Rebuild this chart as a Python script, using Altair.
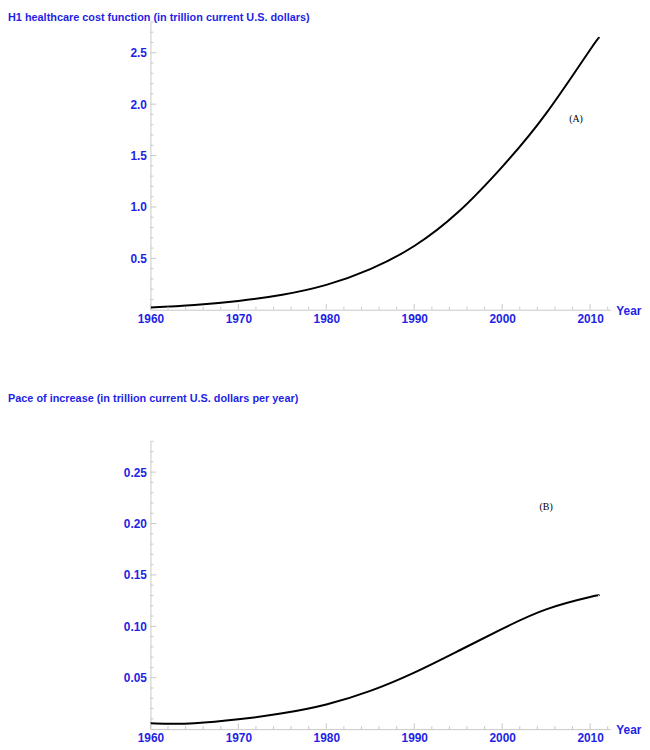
import altair as alt
import pandas as pd

# ---- data ----
years_a = [1960, 1965, 1970, 1975, 1980, 1985, 1990, 1995, 2000, 2005, 2010, 2011]
cost_a = [0.022, 0.047, 0.086, 0.146, 0.242, 0.395, 0.62, 0.95, 1.39, 1.91, 2.53, 2.64]

years_b = [1960, 1962, 1965, 1970, 1975, 1980, 1985, 1990, 1995, 2000, 2005, 2010, 2011]
pace_b = [0.0058, 0.0053, 0.0058, 0.0096, 0.0154, 0.024, 0.0372, 0.055, 0.076, 0.0975, 0.1165, 0.1285, 0.13]

x_labels = [1960, 1970, 1980, 1990, 2000, 2010]
x_minor = [1962, 1964, 1966, 1968, 1972, 1974, 1976, 1978, 1982, 1984, 1986, 1988,
           1992, 1994, 1996, 1998, 2002, 2004, 2006, 2008, 2012]
ya_labels = [0.5, 1.0, 1.5, 2.0, 2.5]
ya_minor = [round(0.1 * i, 1) for i in range(1, 29) if i % 5]
yb_labels = [0.05, 0.10, 0.15, 0.20, 0.25]
yb_minor = [round(0.01 * i, 2) for i in range(1, 29) if i % 5]

title_a = "H1 healthcare cost function (in trillion current U.S. dollars)"
title_b = "Pace of increase (in trillion current U.S. dollars per year)"

BLUE = "#1f1fe6"
GRAY = "#c8c8c8"
FONT = "Liberation Sans"
W, H = 465, 291


def panel(years, vals, ymax, ylab, ymin, yfmt, title, tag, tag_x, tag_y, title_y):
    xs = alt.Scale(domain=[1960, 2012.3], nice=False, zero=False)
    ys = alt.Scale(domain=[0, ymax], nice=False, zero=True)
    xaxis = alt.Axis(values=x_labels, format="d", title=None, grid=False, ticks=False,
                     domain=True, domainColor=GRAY, labelColor=BLUE, labelFont=FONT,
                     labelFontWeight="bold", labelFontSize=12, labelPadding=4,
                     labelFlush=False)
    yaxis = alt.Axis(values=ylab, format=yfmt, title=None, grid=False, ticks=False,
                     domain=True, domainColor=GRAY, labelColor=BLUE, labelFont=FONT,
                     labelFontWeight="bold", labelFontSize=12, labelPadding=4)
    df = pd.DataFrame({"year": years, "v": vals})
    line = alt.Chart(df).mark_line(color="black", strokeWidth=2, interpolate="natural").encode(
        x=alt.X("year:Q", scale=xs, axis=xaxis),
        y=alt.Y("v:Q", scale=ys, axis=yaxis),
    )
    xmaj = alt.Chart(pd.DataFrame({"year": x_labels})).mark_rule(color=GRAY).encode(
        x=alt.X("year:Q"), y=alt.value(H), y2=alt.value(H - 6))
    xmin = alt.Chart(pd.DataFrame({"year": x_minor})).mark_rule(color=GRAY).encode(
        x=alt.X("year:Q"), y=alt.value(H), y2=alt.value(H - 3))
    ymaj = alt.Chart(pd.DataFrame({"v": ylab})).mark_rule(color=GRAY).encode(
        y=alt.Y("v:Q"), x=alt.value(0), x2=alt.value(6))
    ymn = alt.Chart(pd.DataFrame({"v": ymin})).mark_rule(color=GRAY).encode(
        y=alt.Y("v:Q"), x=alt.value(0), x2=alt.value(3))
    tagm = alt.Chart(pd.DataFrame({"year": [tag_x], "v": [tag_y], "t": [tag]})).mark_text(
        font="Liberation Serif", fontSize=10, color="black").encode(
        x=alt.X("year:Q"), y=alt.Y("v:Q"), text="t:N")
    ttl = alt.Chart(pd.DataFrame({"t": [title]})).mark_text(
        align="left", baseline="top", font=FONT, fontWeight="bold", fontSize=11,
        color=BLUE).encode(x=alt.value(-144), y=alt.value(title_y), text="t:N")
    yr = alt.Chart(pd.DataFrame({"t": ["Year"]})).mark_text(
        align="left", baseline="middle", font=FONT, fontWeight="bold", fontSize=12,
        color=BLUE).encode(x=alt.value(W + 6), y=alt.value(H + 1), text="t:N")
    return alt.layer(line, xmaj, xmin, ymaj, ymn, tagm, ttl, yr).properties(width=W, height=H)


top = panel(years_a, cost_a, 2.8, ya_labels, ya_minor, ".1f", title_a, "(A)", 2008.4, 1.86, -10)
bottom = panel(years_b, pace_b, 0.28, yb_labels, yb_minor, ".2f", title_b, "(B)", 2005.0, 0.216, -49)

chart = alt.vconcat(top, bottom, spacing=133, bounds="flush").properties(
    padding=0, background="white"
).configure_view(stroke=None)

chart.save("out.html", embed_options={"renderer": "svg", "actions": False})
